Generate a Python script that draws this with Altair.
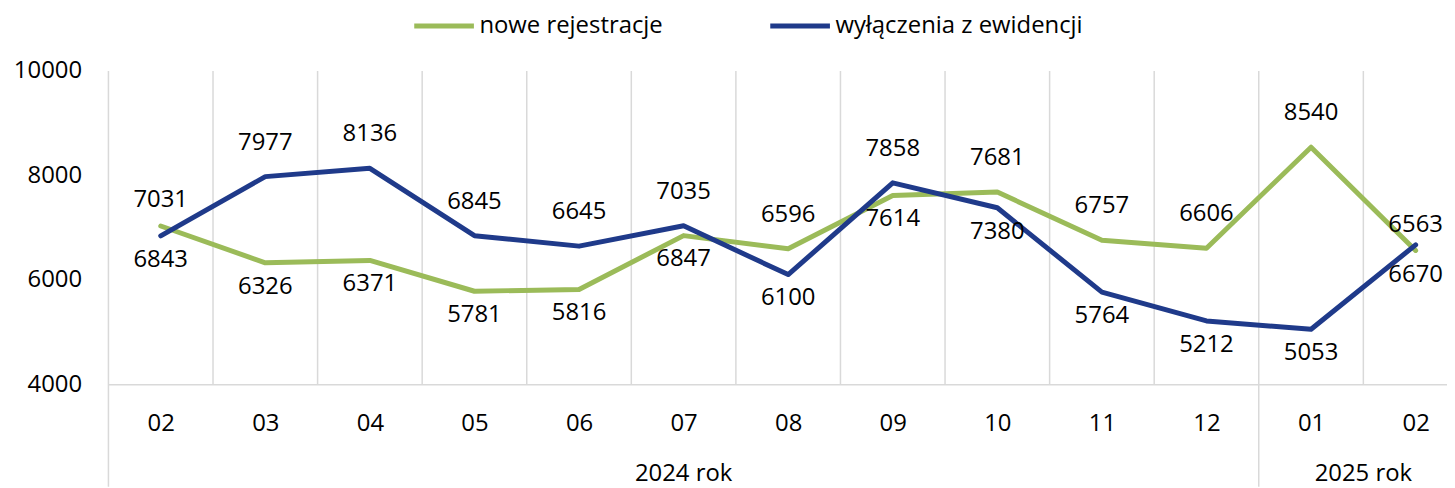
import altair as alt
import pandas as pd

# ---- data ----
months = ["02", "03", "04", "05", "06", "07", "08", "09", "10", "11", "12", "01", "02"]
month_year = [0, 0, 0, 0, 0, 0, 0, 0, 0, 0, 0, 1, 1]
years = ["2024 rok", "2025 rok"]
series_names = ["nowe rejestracje", "wyłączenia z ewidencji"]
nowe = [7031, 6326, 6371, 5781, 5816, 6847, 6596, 7614, 7681, 6757, 6606, 8540, 6563]
wyl = [6843, 7977, 8136, 6845, 6645, 7035, 6100, 7858, 7380, 5764, 5212, 5053, 6670]
nowe_place = ["near_above", "below", "below", "below", "below", "below", "above",
              "below", "above", "above", "above", "above", "near_above"]
wyl_place = ["below", "above", "above", "above", "above", "above", "below",
             "above", "below", "below", "below", "below", "far_below"]
y_ticks = [4000, 6000, 8000, 10000]

# ---- styles ----
colors = ["#9BBB59", "#1F3A8A"]
grid_color = "#d9d9d9"
FONT = "Open Sans"
FS = 24
W, H = 1346, 315
PAD = {"left": 101, "top": 62, "right": 0, "bottom": 103}
label_dy = {"above": -34, "near_above": -26, "below": 24, "far_below": 30}

rows = []
for name, vals, places in [(series_names[0], nowe, nowe_place), (series_names[1], wyl, wyl_place)]:
    for i, (v, p) in enumerate(zip(vals, places)):
        rows.append({"idx": i, "series": name, "value": v, "place": p})
df = pd.DataFrame(rows)

n = len(months)
inner_b = [i + 0.5 for i in range(n - 1) if month_year[i] == month_year[i + 1]]
sep_b = [-0.5] + [i + 0.5 for i in range(n - 1) if month_year[i] != month_year[i + 1]]
grid_df = pd.DataFrame({"idx": inner_b})
sep_df = pd.DataFrame({"idx": sep_b})

year_centers = []
for k, y in enumerate(years):
    idxs = [i for i, m in enumerate(month_year) if m == k]
    year_centers.append({"idx": (min(idxs) + max(idxs)) / 2, "label": y})
year_df = pd.DataFrame(year_centers)

xscale = alt.Scale(domain=[-0.5, 12.3], nice=False, zero=False)
yscale = alt.Scale(domain=[4000, 10000], nice=False, zero=False)

label_expr = "[" + ",".join(f"'{m}'" for m in months) + "][datum.value]"

x_axis = alt.Axis(
    values=list(range(n)), labelExpr=label_expr, title=None, grid=False,
    ticks=False, domain=True, domainColor=grid_color, domainWidth=1.5,
    labelFontSize=FS, labelFont=FONT, labelColor="black", labelPadding=40,
    labelBaseline="middle", labelFlush=False, labelOverlap=False,
)
y_axis = alt.Axis(
    values=y_ticks, format="d", title=None, grid=False, ticks=False, domain=False,
    labelFontSize=FS, labelFont=FONT, labelColor="black", labelPadding=27,
)

X = alt.X("idx:Q", scale=xscale, axis=x_axis)
Y = alt.Y("value:Q", scale=yscale, axis=y_axis)

grid = alt.Chart(grid_df).mark_rule(color=grid_color, strokeWidth=1.5).encode(
    x=X, y=alt.value(0), y2=alt.value(H),
)
sep = alt.Chart(sep_df).mark_rule(color=grid_color, strokeWidth=1.5).encode(
    x=X, y=alt.value(0), y2=alt.value(H + PAD["bottom"]),
)

lines = alt.Chart(df).mark_line(strokeWidth=5, strokeJoin="round", strokeCap="round").encode(
    x=X,
    y=Y,
    color=alt.Color(
        "series:N",
        scale=alt.Scale(domain=series_names, range=colors),
        legend=alt.Legend(
            title=None, orient="none", legendX=305, legendY=-78, direction="horizontal",
            symbolType="stroke", symbolSize=3600, symbolStrokeWidth=5,
            labelFontSize=FS, labelFont=FONT, labelColor="black", labelLimit=500,
            labelOffset=3, columnPadding=97,
        ),
    ),
)

text_layers = []
for place, dy in label_dy.items():
    text_layers.append(
        alt.Chart(df).transform_filter(f"datum.place == '{place}'").mark_text(
            dy=dy, fontSize=FS, font=FONT, color="black"
        ).encode(x=X, y=Y, text=alt.Text("value:Q", format="d"))
    )

year_txt = alt.Chart(year_df).mark_text(fontSize=FS, font=FONT, color="black", baseline="middle").encode(
    x=X, y=alt.value(H + 90), text="label:N",
)

chart = alt.layer(grid, sep, lines, *text_layers, year_txt).properties(
    width=W, height=H,
    autosize=alt.AutoSizeParams(type="none"),
    padding=PAD,
).configure(font=FONT).configure_view(strokeWidth=0)

chart.save("out.html", embed_options={"renderer": "svg", "actions": False})
